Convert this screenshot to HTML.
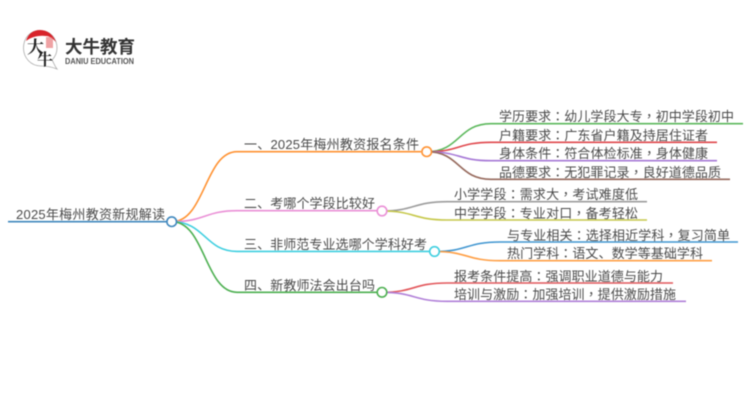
<!DOCTYPE html>
<html><head><meta charset="utf-8"><style>
html,body{margin:0;padding:0;background:#fff;width:750px;height:410px;overflow:hidden}
svg{display:block;filter:blur(.5px)}
text{font-family:"Liberation Sans","Noto Sans CJK SC",sans-serif;font-size:13px;fill:#4a4a4a}
tspan.p{font-family:"Noto Sans CJK TC",sans-serif}
path{fill:none;stroke-width:1.6}
circle.n{fill:#fff;stroke-width:1.6}
</style></head><body>
<svg width="750" height="410" viewBox="0 0 750 410" xmlns="http://www.w3.org/2000/svg">
<!-- logo -->
<path d="M40 30.500C30 30.500 23.500 38 23.500 48C23.500 58 31 66 41 66C46 66 52 67 57 69C54 65 54 63 52 60C55 57 57 53 57 48C57 38 50 30.500 40 30.500Z" style="stroke:#aaa;stroke-width:.8;fill:#fff"/>
<path d="M26 41C28 34 33 30 40 30C47 30 53 34 56 42C53 39 50 36 46 36C39 35 31 37 26 41Z" style="fill:#d8232a;stroke:none"/>
<text x="27" y="53" style="font-size:17px;font-weight:700;fill:#222;font-family:'Noto Serif CJK SC',serif">大</text>
<text x="37" y="65" style="font-size:16px;font-weight:700;fill:#222;font-family:'Noto Serif CJK SC',serif">牛</text>
<rect x="46" y="37" width="7" height="11" fill="#e2565a" opacity=".55"/>
<text x="65" y="53" textLength="70" lengthAdjust="spacingAndGlyphs" style="font-size:17.500px;font-weight:700;fill:#333">大牛教育</text>
<text x="65" y="64" textLength="69" lengthAdjust="spacingAndGlyphs" style="font-size:8px;font-weight:700;fill:#555">DANIU EDUCATION</text>

<!-- root -->
<path d="M8 221.700H172" stroke="#3f87bd"/>
<path d="M172 221.700C205 221.700 205 151.700 237 151.700H421" stroke="#ff9232"/>
<path d="M172 221.700C205 221.700 205 210.700 237 210.700H377" stroke="#ea8fd6"/>
<path d="M172 221.700C205 221.700 205 251.400 237 251.400H429" stroke="#3fcfe0"/>
<path d="M172 221.700C205 221.700 205 292.300 237 292.300H377" stroke="#4caf50"/>

<!-- group 1 -->
<path d="M427 151.700C460 151.700 458 123.700 491 123.700H743" stroke="#5cb85c"/>
<path d="M427 151.700C460 151.700 458 142.300 491 142.300H717" stroke="#e0474c"/>
<path d="M427 151.700C460 151.700 458 160.700 491 160.700H717" stroke="#a678d6"/>
<path d="M427 151.700C460 151.700 458 179.300 491 179.300H730" stroke="#96695c"/>
<!-- group 2 -->
<path d="M382 211C415 211 413 201.700 447 201.700H647" stroke="#9c9c9c"/>
<path d="M382 211C415 211 413 220 447 220H647" stroke="#c6c84a"/>
<!-- group 3 -->
<path d="M434.500 251.500C468 251.500 466 242 500 242H738" stroke="#3f95d0"/>
<path d="M434.500 251.500C468 251.500 466 260.700 500 260.700H712" stroke="#ff9f45"/>
<!-- group 4 -->
<path d="M382 292.300C415 292.300 413 283 447 283H673" stroke="#e2565a"/>
<path d="M382 292.300C415 292.300 413 301.300 447 301.300H686" stroke="#b07fd8"/>

<circle class="n" cx="171.700" cy="221.700" r="4.800" stroke="#3f87bd"/>
<circle class="n" cx="426.700" cy="151.700" r="4.800" stroke="#ff9232"/>
<circle class="n" cx="382" cy="211" r="4.800" stroke="#ea8fd6"/>
<circle class="n" cx="434.500" cy="251.500" r="4.800" stroke="#3fcfe0"/>
<circle class="n" cx="382" cy="292.300" r="4.800" stroke="#4caf50"/>

<text x="16" y="219" textLength="149">2025年梅州教资新规解读</text>
<text x="244" y="149" textLength="175">一、2025年梅州教资报名条件</text>
<text x="244" y="208" textLength="131">二、考哪个学段比较好</text>
<text x="244" y="249" textLength="183">三、非师范专业选哪个学科好考</text>
<text x="244" y="290" textLength="131">四、新教师法会出台吗</text>

<text x="499" y="121" textLength="235">学历要求<tspan class="p">：</tspan>幼儿学段大专<tspan class="p">，</tspan>初中学段初中</text>
<text x="499" y="140" textLength="209">户籍要求<tspan class="p">：</tspan>广东省户籍及持居住证者</text>
<text x="499" y="158" textLength="209">身体条件<tspan class="p">：</tspan>符合体检标准<tspan class="p">，</tspan>身体健康</text>
<text x="499" y="177" textLength="222">品德要求<tspan class="p">：</tspan>无犯罪记录<tspan class="p">，</tspan>良好道德品质</text>

<text x="454" y="199" textLength="184">小学学段<tspan class="p">：</tspan>需求大<tspan class="p">，</tspan>考试难度低</text>
<text x="454" y="218" textLength="184">中学学段<tspan class="p">：</tspan>专业对口<tspan class="p">，</tspan>备考轻松</text>

<text x="507" y="240" textLength="223">与专业相关<tspan class="p">：</tspan>选择相近学科<tspan class="p">，</tspan>复习简单</text>
<text x="507" y="258" textLength="196">热门学科<tspan class="p">：</tspan>语文、数学等基础学科</text>

<text x="454" y="281" textLength="209">报考条件提高<tspan class="p">：</tspan>强调职业道德与能力</text>
<text x="454" y="299" textLength="222">培训与激励<tspan class="p">：</tspan>加强培训<tspan class="p">，</tspan>提供激励措施</text>
</svg>
</body></html>
